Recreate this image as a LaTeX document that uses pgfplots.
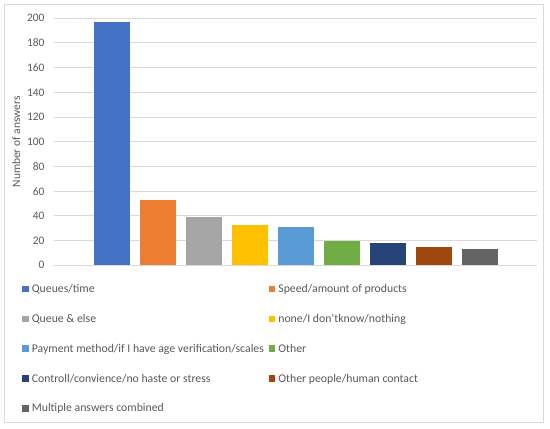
\documentclass[border=0pt]{standalone}
\usepackage{pgfplots}
\pgfplotsset{compat=1.18}
\usepackage{fontspec}
\setmainfont{Carlito}
\definecolor{c1}{HTML}{4472C4}
\definecolor{c2}{HTML}{ED7D31}
\definecolor{c3}{HTML}{A5A5A5}
\definecolor{c4}{HTML}{FFC000}
\definecolor{c5}{HTML}{5B9BD5}
\definecolor{c6}{HTML}{70AD47}
\definecolor{c7}{HTML}{264478}
\definecolor{c8}{HTML}{9E480E}
\definecolor{c9}{HTML}{636363}
\definecolor{gridc}{HTML}{D9D9D9}
\definecolor{txt}{HTML}{595959}
\begin{document}
\begin{tikzpicture}[x=1bp,y=1bp]
\path[use as bounding box] (0,0) rectangle (550,428);
\draw[gridc, line width=0.8bp] (4,6) rectangle (543,424);
\begin{axis}[
  at={(54bp,162.7bp)}, anchor=south west,
  scale only axis, width=483bp, height=247bp,
  xmin=-1.26, xmax=9.24, ymin=0, ymax=200,
  ytick={0,20,...,200},
  xtick=\empty,
  axis line style={draw=none},
  major tick length=0pt,
  ymajorgrids, grid style={gridc, line width=1bp},
  tick label style={font=\fontsize{11.5}{12}\selectfont, text=txt},
  yticklabel style={xshift=-6bp},
  /pgf/number format/assume math mode=true,
  ylabel={Number of answers},
  ylabel style={font=\fontsize{11.5}{12}\selectfont, text=txt},
  ybar, bar shift=0pt, bar width=0.78,
  legend columns=2,
  legend style={at={(-0.066,-0.068)}, anchor=north west, draw=none, fill=none,
    font=\fontsize{11.8}{12}\selectfont, text=txt, inner sep=0pt,
    row sep=16.2bp,
    /tikz/every odd column/.append style={column sep=1bp},
    /tikz/every even column/.append style={column sep=3bp}},
  legend image code/.code={\fill[#1] (0bp,-3bp) rectangle (6.5bp,3.5bp);},
  legend cell align=left,
]
\addplot[fill=c1, draw=none] coordinates {(0,197)};
\addlegendentry{Queues/time}
\addplot[fill=c2, draw=none] coordinates {(1,53)};
\addlegendentry{Speed/amount of products}
\addplot[fill=c3, draw=none] coordinates {(2,39)};
\addlegendentry{Queue \& else}
\addplot[fill=c4, draw=none] coordinates {(3,33)};
\addlegendentry{none/I don'tknow/nothing}
\addplot[fill=c5, draw=none] coordinates {(4,31)};
\addlegendentry{Payment method/if I have age verification/scales}
\addplot[fill=c6, draw=none] coordinates {(5,20)};
\addlegendentry{Other}
\addplot[fill=c7, draw=none] coordinates {(6,18)};
\addlegendentry{Controll/convience/no haste or stress}
\addplot[fill=c8, draw=none] coordinates {(7,15)};
\addlegendentry{Other people/human contact}
\addplot[fill=c9, draw=none] coordinates {(8,13)};
\addlegendentry{Multiple answers combined}
\end{axis}
\end{tikzpicture}
\end{document}
